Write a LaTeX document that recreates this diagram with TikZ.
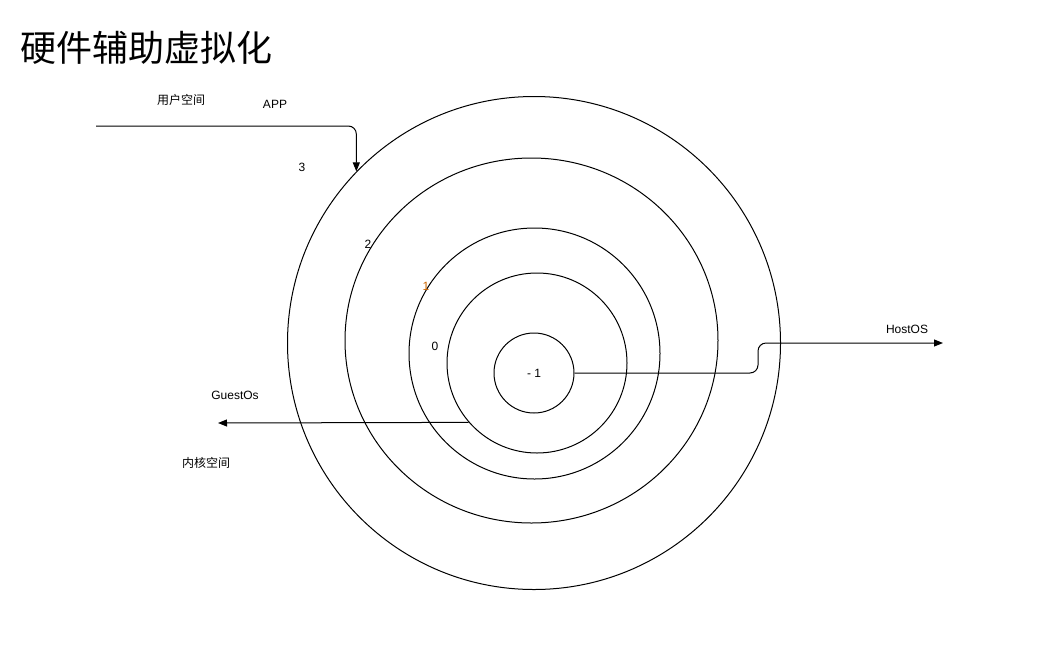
\documentclass[tikz,border=0pt]{standalone}
\usepackage{fontspec}
\setmainfont{Liberation Sans}
\newfontfamily\cjk{Noto Sans CJK SC}
\usetikzlibrary{arrows.meta,shapes.geometric}
\definecolor{ringone}{RGB}{204,102,0}
\begin{document}
\begin{tikzpicture}[
    x=1pt, y=-1pt,
    ring/.style={circle, draw, line width=1pt, inner sep=0pt},
    lbl/.style={font=\fontsize{12}{14}\selectfont, inner sep=0pt},
    conn/.style={line width=1pt, rounded corners=8pt, -{Triangle[length=9pt,width=7pt]}}
]
\useasboundingbox (0,0) rectangle (1052,646);

% Title
\node[font=\cjk\fontsize{36}{40}\selectfont, inner sep=0pt] (title) at (146,48) {硬件辅助虚拟化};

% Rings, outside in
\node[ring, minimum size=493pt] (ring3) at (534,343) {};
\node[ring, ellipse, minimum width=373pt, minimum height=365pt] (ring2) at (531.5,340.5) {};
\node[ring, minimum size=251pt] (ring1) at (534.5,353.5) {};
\node[ring, minimum size=180pt] (ring0) at (537,363) {};
\node[ring, minimum size=80pt, lbl] (core) at (534,373) {- 1};

% Ring numbers
\node[lbl] (n3) at (302,167) {3};
\node[lbl] (n2) at (368,244) {2};
\node[lbl, text=ringone] (n1) at (426,286) {1};
\node[lbl] (n0) at (435,346) {0};

% Labels
\node[lbl, font=\cjk\fontsize{12}{14}\selectfont] (userspace) at (181,100) {用户空间};
\node[lbl] (app) at (275,104) {APP};
\node[lbl] (guest) at (235,395) {GuestOs};
\node[lbl, font=\cjk\fontsize{12}{14}\selectfont] (kernelspace) at (206,463) {内核空间};
\node[lbl] (host) at (907,329) {HostOS};

% Connectors
\coordinate (appstart) at (96,126);
\coordinate (hostbend) at (758,343);
\coordinate (hostend) at (943,343);
\coordinate (guestend) at (218,423);

\draw[conn] (appstart) -| (ring3.136);
\draw[conn] (core.east) -| (hostbend) -- (hostend);
\draw[conn] (ring0.221.8) -- (guestend);

\end{tikzpicture}
\end{document}
